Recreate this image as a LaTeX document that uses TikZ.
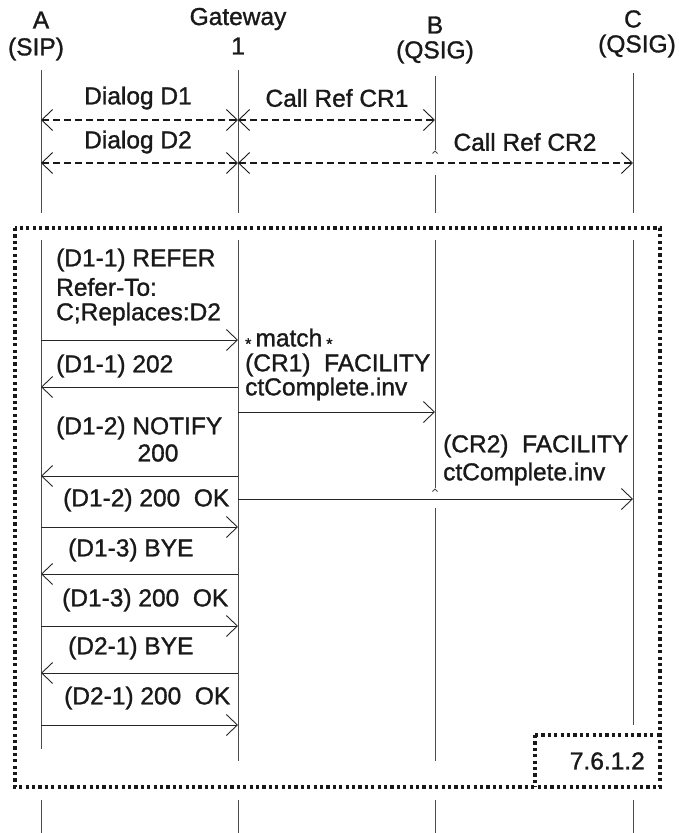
\documentclass[tikz,border=0pt]{standalone}
\usepackage{fontspec}
\setmainfont[FakeBold=1.2]{Liberation Sans}
\usetikzlibrary{arrows.meta}
\begin{document}
\begin{tikzpicture}[x=1pt,y=-1pt,
  lbl/.style={font=\fontsize{24.5}{26}\selectfont, inner sep=0pt, text=black!90},
  star/.style={font=\fontsize{16}{16}\selectfont},
  life/.style={draw=black!70, line width=0.9pt},
  msg/.style={draw=black!85, line width=0.9pt, -{Straight Barb[length=11pt,width=21pt,line width=0.9pt]}},
  dmsg/.style={draw=black!90, line width=1.1pt, dash pattern=on 7pt off 4pt,
     {Straight Barb[length=11pt,width=21pt,line width=0.9pt]}-{Straight Barb[length=11pt,width=21pt,line width=0.9pt]}},
  dotbox/.style={draw=black!90, line width=3.2pt, dash pattern=on 3.2pt off 3.2pt}
]
\useasboundingbox (0,0) rectangle (678,833);

% headers
\node[lbl] (hA1) at (41,20) {A};
\node[lbl] (hA2) at (36,49) {(SIP)};
\node[lbl] (hG1) at (238,19) {Gateway};
\node[lbl] (hG2) at (238,46) {1};
\node[lbl] (hB1) at (435,25) {B};
\node[lbl] (hB2) at (435,52) {(QSIG)};
\node[lbl] (hC1) at (633,19) {C};
\node[lbl] (hC2) at (637,46) {(QSIG)};

% top lifelines
\coordinate (At) at (41,70);   \coordinate (Ab) at (41,213);
\coordinate (Gt) at (238,70);  \coordinate (Gb) at (238,213);
\coordinate (Bt) at (435,76);  \coordinate (Bm) at (435,150);
\coordinate (Bn) at (435,175); \coordinate (Bb) at (435,213);
\coordinate (Ct) at (633,73);  \coordinate (Cb) at (633,213);
\draw[life] (At) -- (Ab);
\draw[life] (Gt) -- (Gb);
\draw[life] (Bt) -- (Bm);
\draw[life] (432.5,153.5) -- (435,151) -- (437.5,153.5);
\draw[life] (Bn) -- (Bb);
\draw[life] (Ct) -- (Cb);

% dialog arrows
\coordinate (d1a) at (41,120); \coordinate (d1g) at (238,120); \coordinate (d1b) at (435,120);
\coordinate (d2a) at (41,163); \coordinate (d2g) at (238,163); \coordinate (d2c) at (633,163);
\draw[dmsg] (d1a) -- (d1g);
\draw[dmsg] (d1g) -- (d1b);
\draw[dmsg] (d2a) -- (d2g);
\draw[dmsg] (d2g) -- (d2c);
\node[lbl] (tD1) at (138,98) {Dialog D1};
\node[lbl] (tC1) at (337,98) {Call Ref CR1};
\node[lbl] (tD2) at (138,142) {Dialog D2};
\node[lbl] (tC2) at (525,142) {Call Ref CR2};

% boxes
\draw[dotbox] (15,228) rectangle (660,787);
\draw[dotbox] (535,735) -- (535,787);
\draw[dotbox] (535,735) -- (660,735);
\node[lbl, anchor=east] (ref) at (645,761) {7.6.1.2};

% inner lifelines
\coordinate (iAt) at (41,240); \coordinate (iAb) at (41,749);
\coordinate (iGt) at (238,240); \coordinate (iGb) at (238,761);
\coordinate (iBt) at (435,240); \coordinate (iBm) at (435,488);
\coordinate (iBn) at (435,508); \coordinate (iBb) at (435,761);
\coordinate (iCt) at (633,240); \coordinate (iCb) at (633,725);
\draw[life] (iAt) -- (iAb);
\draw[life] (iGt) -- (iGb);
\draw[life] (iBt) -- (iBm);
\draw[life] (432.5,491.5) -- (435,489) -- (437.5,491.5);
\draw[life] (iBn) -- (iBb);
\draw[life] (iCt) -- (iCb);

% bottom lifelines
\foreach \n/\x in {A/41,G/238,B/435,C/633}{
  \coordinate (x\n t) at (\x,800);
  \coordinate (x\n b) at (\x,833);
  \draw[life] (x\n t) -- (x\n b);
}

% messages
\coordinate (m1a) at (41,340);  \coordinate (m1g) at (238,340);
\coordinate (m2a) at (41,387);  \coordinate (m2g) at (238,387);
\coordinate (m3g) at (238,412); \coordinate (m3b) at (435,412);
\coordinate (m4a) at (41,476);  \coordinate (m4g) at (238,476);
\coordinate (m5g) at (238,499); \coordinate (m5c) at (633,499);
\coordinate (m6a) at (41,527);  \coordinate (m6g) at (238,527);
\coordinate (m7a) at (41,574);  \coordinate (m7g) at (238,574);
\coordinate (m8a) at (41,626);  \coordinate (m8g) at (238,626);
\coordinate (m9a) at (41,673);  \coordinate (m9g) at (238,673);
\coordinate (m10a) at (41,725); \coordinate (m10g) at (238,725);
\draw[msg] (m1a) -- (m1g);
\draw[msg] (m2g) -- (m2a);
\draw[msg] (m3g) -- (m3b);
\draw[msg] (m4g) -- (m4a);
\draw[msg] (m5g) -- (m5c);
\draw[msg] (m6a) -- (m6g);
\draw[msg] (m7g) -- (m7a);
\draw[msg] (m8a) -- (m8g);
\draw[msg] (m9g) -- (m9a);
\draw[msg] (m10a) -- (m10g);

% message labels
\node[lbl, anchor=west] (t1a) at (56,260) {(D1-1) REFER};
\node[lbl, anchor=west] (t1b) at (56,287) {Refer-To:};
\node[lbl, anchor=west] (t1c) at (56,314) {C;Replaces:D2};
\node[lbl, anchor=west] (t2) at (56,366) {(D1-1) 202};
\node[lbl, anchor=west] (t3a) at (245,339) {\raisebox{-0.12em}{\fontsize{16}{16}\selectfont *}\,match\,\raisebox{-0.12em}{\fontsize{16}{16}\selectfont *}};
\node[lbl, anchor=west] (t3b) at (245,365) {(CR1)\ \ FACILITY};
\node[lbl, anchor=west] (t3c) at (245,389) {ctComplete.inv};
\node[lbl, anchor=west] (t4a) at (56,428) {(D1-2) NOTIFY};
\node[lbl] (t4b) at (158,453) {200};
\node[lbl, anchor=west] (t5a) at (443,446) {(CR2)\ \ FACILITY};
\node[lbl, anchor=west] (t5b) at (443,474) {ctComplete.inv};
\node[lbl, anchor=west] (t6) at (63,500) {(D1-2) 200\ \ OK};
\node[lbl, anchor=west] (t7) at (68,550) {(D1-3) BYE};
\node[lbl, anchor=west] (t8) at (62,600) {(D1-3) 200\ \ OK};
\node[lbl, anchor=west] (t9) at (68,648) {(D2-1) BYE};
\node[lbl, anchor=west] (t10) at (64,698) {(D2-1) 200\ \ OK};
\end{tikzpicture}
\end{document}
